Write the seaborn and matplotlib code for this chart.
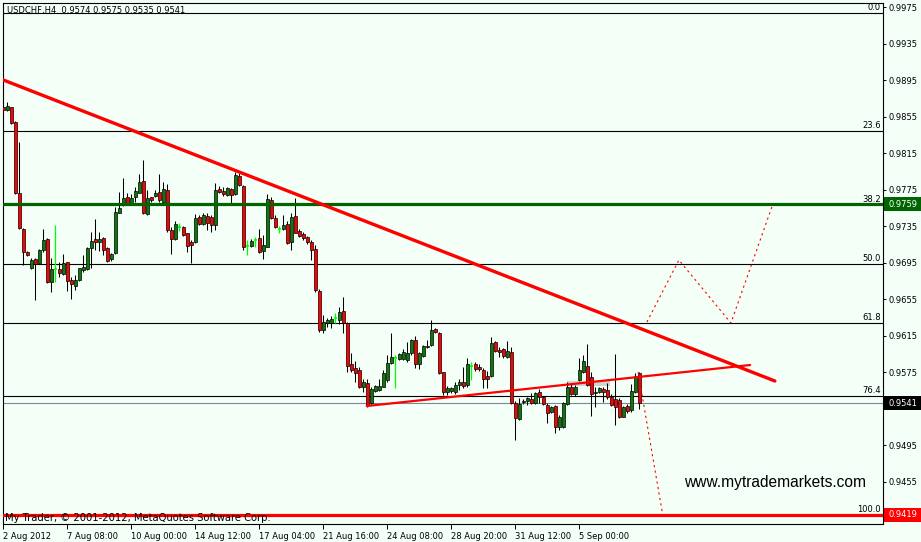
import numpy as np
import matplotlib
matplotlib.use("Agg")
import matplotlib.pyplot as plt
import matplotlib.transforms as mtransforms
from matplotlib.patches import Rectangle
import seaborn as sns

# ---------------- data ----------------
opens = [0.98660, 0.98619, 0.98652, 0.98488, 0.97710, 0.97320, 0.97064, 0.96896, 0.96991, 0.96951,
         0.97090, 0.97210, 0.96743, 0.96882, 0.96882, 0.96827, 0.96955, 0.96758, 0.96699, 0.96761,
         0.96871, 0.96878, 0.97108, 0.97210, 0.97174, 0.97225, 0.97115, 0.96988, 0.97054, 0.97499,
         0.97583, 0.97667, 0.97601, 0.97667, 0.97718, 0.97849, 0.97481, 0.97667, 0.97681, 0.97729,
         0.97619, 0.97747, 0.97309, 0.97207, 0.97346, 0.97338, 0.97272, 0.97181, 0.97181, 0.97448,
         0.97375, 0.97462, 0.97455, 0.97363, 0.97754, 0.97739, 0.97692, 0.97754, 0.97703, 0.97900,
         0.97790, 0.97133, 0.97133, 0.97199, 0.97217, 0.97082, 0.97126, 0.97637, 0.97436, 0.97316,
         0.97316, 0.97374, 0.97181, 0.97462, 0.97301, 0.97265, 0.97228, 0.97181, 0.97097, 0.96644,
         0.96214, 0.96287, 0.96294, 0.96342, 0.96324, 0.96426, 0.96294, 0.95842, 0.95794, 0.95776,
         0.95586, 0.95630, 0.95411, 0.95550, 0.95557, 0.95593, 0.95666, 0.95857, 0.95904, 0.95893,
         0.95893, 0.95885, 0.95958, 0.96105, 0.95842, 0.95929, 0.96039, 0.96050, 0.96225, 0.96177,
         0.95750, 0.95531, 0.95546, 0.95538, 0.95611, 0.95641, 0.95611, 0.95823, 0.95838, 0.95812,
         0.95776, 0.95714, 0.95714, 0.96079, 0.95995, 0.96006, 0.95922, 0.95969, 0.95411, 0.95239,
         0.95421, 0.95436, 0.95458, 0.95411, 0.95538, 0.95483, 0.95392, 0.95319, 0.95381, 0.95155,
         0.95155, 0.95403, 0.95593, 0.95513, 0.95666, 0.95757, 0.95819, 0.95702, 0.95520, 0.95538,
         0.95564, 0.95557, 0.95483, 0.95454, 0.95447, 0.95264, 0.95381, 0.95337, 0.95531, 0.95740]
highs = [0.98707, 0.98707, 0.98659, 0.98500, 0.98276, 0.97327, 0.97079, 0.96998, 0.96998, 0.97101,
         0.97316, 0.97217, 0.96998, 0.97364, 0.96962, 0.97042, 0.96962, 0.96798, 0.96816, 0.96896,
         0.97035, 0.97126, 0.97283, 0.97429, 0.97283, 0.97236, 0.97123, 0.97054, 0.97557, 0.97729,
         0.97875, 0.97718, 0.97700, 0.97784, 0.97922, 0.98076, 0.97747, 0.97674, 0.97747, 0.97922,
         0.97838, 0.97813, 0.97338, 0.97411, 0.97382, 0.97353, 0.97280, 0.97200, 0.97484, 0.97473,
         0.97499, 0.97491, 0.97473, 0.97820, 0.97790, 0.97783, 0.97783, 0.97765, 0.97947, 0.97929,
         0.97801, 0.97199, 0.97206, 0.97236, 0.97316, 0.97254, 0.97703, 0.97674, 0.97473, 0.97352,
         0.97473, 0.97411, 0.97491, 0.97655, 0.97316, 0.97290, 0.97243, 0.97199, 0.97144, 0.96660,
         0.96378, 0.96342, 0.96367, 0.96404, 0.96470, 0.96579, 0.96305, 0.95958, 0.95878, 0.95805,
         0.95674, 0.95674, 0.95593, 0.95612, 0.95674, 0.95776, 0.95940, 0.96185, 0.95940, 0.95958,
         0.96002, 0.96086, 0.96112, 0.96148, 0.95977, 0.96050, 0.96105, 0.96323, 0.96239, 0.96188,
         0.95758, 0.95604, 0.95593, 0.95648, 0.95677, 0.95812, 0.95903, 0.95860, 0.95867, 0.95838,
         0.95794, 0.95765, 0.96141, 0.96093, 0.96031, 0.96013, 0.96093, 0.96031, 0.95436, 0.95466,
         0.95458, 0.95484, 0.95520, 0.95538, 0.95564, 0.95491, 0.95410, 0.95381, 0.95392, 0.95283,
         0.95429, 0.95648, 0.95630, 0.95611, 0.95903, 0.95940, 0.96060, 0.95757, 0.95593, 0.95593,
         0.95586, 0.95637, 0.95513, 0.95951, 0.95465, 0.95381, 0.95403, 0.95622, 0.95739, 0.95750]
lows = [0.98568, 0.98612, 0.98470, 0.97705, 0.97320, 0.96925, 0.97028, 0.96882, 0.96542, 0.96944,
        0.97072, 0.96730, 0.96634, 0.96736, 0.96798, 0.96816, 0.96641, 0.96553, 0.96652, 0.96754,
        0.96852, 0.96871, 0.96896, 0.97090, 0.97079, 0.97035, 0.96962, 0.96973, 0.97046, 0.97491,
        0.97572, 0.97583, 0.97583, 0.97619, 0.97711, 0.97484, 0.97473, 0.97619, 0.97674, 0.97619,
        0.97608, 0.97291, 0.97046, 0.97200, 0.97302, 0.97243, 0.97072, 0.96951, 0.97170, 0.97364,
        0.97364, 0.97309, 0.97291, 0.97309, 0.97710, 0.97681, 0.97681, 0.97600, 0.97692, 0.97790,
        0.97090, 0.97035, 0.97119, 0.97119, 0.97060, 0.96987, 0.97119, 0.97425, 0.97327, 0.97279,
        0.97309, 0.97155, 0.97090, 0.97272, 0.97228, 0.97199, 0.97155, 0.96980, 0.96633, 0.96190,
        0.96178, 0.96243, 0.96232, 0.96287, 0.96280, 0.96178, 0.95758, 0.95758, 0.95648, 0.95575,
        0.95539, 0.95367, 0.95393, 0.95539, 0.95550, 0.95586, 0.95648, 0.95842, 0.95575, 0.95885,
        0.95885, 0.95867, 0.95940, 0.95794, 0.95783, 0.95922, 0.96013, 0.96042, 0.96177, 0.95728,
        0.95502, 0.95502, 0.95520, 0.95509, 0.95557, 0.95575, 0.95593, 0.95666, 0.95765, 0.95765,
        0.95582, 0.95575, 0.95703, 0.95969, 0.95922, 0.95904, 0.95904, 0.95400, 0.95009, 0.95228,
        0.95400, 0.95393, 0.95400, 0.95403, 0.95418, 0.95392, 0.95199, 0.95301, 0.95082, 0.95118,
        0.95137, 0.95392, 0.95502, 0.95491, 0.95659, 0.95739, 0.95600, 0.95272, 0.95374, 0.95520,
        0.95429, 0.95454, 0.95381, 0.95173, 0.95246, 0.95257, 0.95301, 0.95319, 0.95520, 0.95350]
closes = [0.98623, 0.98667, 0.98480, 0.97710, 0.97327, 0.97072, 0.97035, 0.96980, 0.96933, 0.97090,
          0.97199, 0.96736, 0.96882, 0.96882, 0.96842, 0.96944, 0.96750, 0.96714, 0.96761, 0.96889,
          0.96907, 0.97108, 0.97192, 0.97181, 0.97210, 0.97090, 0.96973, 0.97046, 0.97510, 0.97553,
          0.97656, 0.97601, 0.97656, 0.97740, 0.97838, 0.97491, 0.97656, 0.97638, 0.97718, 0.97638,
          0.97754, 0.97309, 0.97207, 0.97375, 0.97346, 0.97254, 0.97134, 0.97145, 0.97437, 0.97375,
          0.97473, 0.97389, 0.97364, 0.97747, 0.97728, 0.97703, 0.97765, 0.97692, 0.97911, 0.97801,
          0.97119, 0.97133, 0.97192, 0.97199, 0.97071, 0.97144, 0.97644, 0.97436, 0.97345, 0.97316,
          0.97363, 0.97170, 0.97454, 0.97279, 0.97243, 0.97217, 0.97181, 0.97090, 0.96652, 0.96214,
          0.96305, 0.96324, 0.96331, 0.96342, 0.96415, 0.96294, 0.95820, 0.95776, 0.95747, 0.95586,
          0.95648, 0.95393, 0.95564, 0.95601, 0.95601, 0.95747, 0.95849, 0.95922, 0.95904, 0.95951,
          0.95977, 0.95966, 0.96105, 0.95842, 0.95958, 0.96039, 0.96024, 0.96214, 0.96188, 0.95739,
          0.95531, 0.95582, 0.95575, 0.95611, 0.95641, 0.95604, 0.95838, 0.95823, 0.95787, 0.95787,
          0.95677, 0.95677, 0.96068, 0.95984, 0.95969, 0.95933, 0.95984, 0.95411, 0.95246, 0.95400,
          0.95436, 0.95466, 0.95411, 0.95520, 0.95476, 0.95403, 0.95308, 0.95367, 0.95148, 0.95264,
          0.95418, 0.95593, 0.95513, 0.95593, 0.95776, 0.95878, 0.95611, 0.95513, 0.95538, 0.95575,
          0.95538, 0.95476, 0.95392, 0.95374, 0.95257, 0.95374, 0.95330, 0.95549, 0.95710, 0.95410]

time_tick_bars = [0, 16, 32, 48, 64, 80, 96, 112, 128, 144]
time_tick_labels = ["2 Aug 2012", "7 Aug 08:00", "10 Aug 00:00", "14 Aug 12:00", "17 Aug 04:00",
                    "21 Aug 16:00", "24 Aug 08:00", "28 Aug 20:00", "31 Aug 12:00", "5 Sep 00:00"]
price_ticks = [0.9975, 0.9935, 0.9895, 0.9855, 0.9815, 0.9775, 0.9735, 0.9695,
               0.9655, 0.9615, 0.9575, 0.9535, 0.9495, 0.9455, 0.9415]
hidden_ticks = [0.9535, 0.9415]  # covered by the price boxes in the reference

fib_labels = ["0.0", "23.6", "38.2", "50.0", "61.8", "76.4", "100.0"]
fib_prices = [0.99685, 0.98391, 0.97590, 0.96937, 0.96290, 0.95490, 0.94190]

green_level = 0.9759
red_level = 0.9419
bid_price = 0.9541
title_text = "USDCHF,H4  0.9574 0.9575 0.9535 0.9541"

downtrend_x = [-0.1, 192.9]
downtrend_y = [0.98953, 0.95655]
uptrend_x = [90.85, 186.7]
uptrend_y = [0.95381, 0.95830]
proj_up_x = [160.9, 168.9, 181.9, 192.4]
proj_up_y = [0.96301, 0.96980, 0.96290, 0.97593]
proj_down_x = [158.7, 164.9]
proj_down_y = [0.95754, 0.94177]
box_x = [140.9, 151.7]
box_y = [0.95604, 0.95658]

# ---------------- styling ----------------
BG = "#F3FFF7"
sns.set_style("white", rc={"axes.facecolor": BG, "figure.facecolor": BG,
                           "axes.edgecolor": "black"})
plt.rcParams["font.family"] = ["DejaVu Sans"]

W, H = 921, 542
TOP, BOT, LEFT, RIGHT = 3, 524, 3, 883
fig = plt.figure(figsize=(W / 100, H / 100), dpi=100)
ax = fig.add_axes([LEFT / W, 1 - BOT / H, (RIGHT - LEFT) / W, (BOT - TOP) / H])
ax.set_facecolor(BG)

PX = 0.0001095  # price per pixel
ymax = 0.99827 - TOP * PX
ymin = 0.99827 - BOT * PX

o = np.array(opens); h = np.array(highs); l = np.array(lows); c = np.array(closes)
idx = np.arange(len(o))
doji = np.isclose(o, c)
nd = ~doji

bt_ax = mtransforms.blended_transform_factory(ax.transAxes, ax.transData)

# fib levels (behind candles)
for lab, p in zip(fib_labels, fib_prices):
    ax.axhline(p, color="black", lw=0.8, zorder=1)
    ax.text(0.9975, p + 0.7 * PX, lab, transform=bt_ax,
            ha="right", va="bottom", fontsize=6, color="black", zorder=2)
ax.axhline(bid_price, color="#778899", lw=0.8, zorder=1)
ax.add_patch(Rectangle((box_x[0], box_y[0]), box_x[1] - box_x[0], box_y[1] - box_y[0],
                       facecolor="#D3D3D3", edgecolor="none", zorder=1.5))

# candles
ax.vlines(idx[nd], l[nd], h[nd], color="black", lw=0.75, zorder=3)
bottoms = np.minimum(o, c)[nd]
heights = np.maximum(np.abs(c - o)[nd], 0.00004)
cols = np.where((c > o)[nd], "#0A7A0A", "#FF0000")
ax.bar(idx[nd], heights, bottom=bottoms, width=0.75, color=cols, edgecolor="black",
       linewidth=0.5, zorder=4)
ax.vlines(idx[doji], l[doji], h[doji], color="#00FF00", lw=0.9, zorder=3)
ax.hlines(o[doji], idx[doji] - 0.45, idx[doji] + 0.45, color="#00FF00", lw=1.2, zorder=4)

# horizontal price lines
ax.axhline(green_level, color="#006400", lw=2.3, zorder=5)
ax.axhline(red_level, color="#FF0000", lw=2.3, zorder=5)

# trend lines (seaborn)
sns.lineplot(x=downtrend_x, y=downtrend_y, ax=ax, color="#FF0000", lw=2.4, sort=False,
             estimator=None, zorder=6)
sns.lineplot(x=uptrend_x, y=uptrend_y, ax=ax, color="#FF0000", lw=1.6, sort=False,
             estimator=None, zorder=6)
sns.lineplot(x=proj_up_x, y=proj_up_y, ax=ax, color="#FF0000", lw=0.8, sort=False,
             estimator=None, zorder=6, linestyle=(0, (2, 3)))
sns.lineplot(x=proj_down_x, y=proj_down_y, ax=ax, color="#FF0000", lw=0.8, sort=False,
             estimator=None, zorder=6, linestyle=(0, (2, 3)))

# axes limits & ticks
ax.set_xlim(-0.075, 219.925)
ax.set_ylim(ymin, ymax)
ax.set_xlabel("")
ax.set_ylabel("")
ax.set_xticks(time_tick_bars)
ax.set_xticklabels(time_tick_labels, ha="left")
ax.yaxis.tick_right()
ax.set_yticks(price_ticks)
ax.set_yticklabels(["" if p in hidden_ticks else f"{p:.4f}" for p in price_ticks])
ax.tick_params(axis="x", length=3.5, width=0.7, pad=2.0, labelsize=6, colors="black", bottom=True)
ax.tick_params(axis="y", length=2.2, width=0.7, pad=1.5, labelsize=6, colors="black", right=True, left=False)
for s in ax.spines.values():
    s.set_visible(True)
    s.set_color("black")
    s.set_linewidth(0.8)
ax.grid(False)

# price boxes on the right scale
bt = mtransforms.blended_transform_factory(fig.transFigure, ax.transData)
for price, fc in [(green_level, "#006400"), (bid_price, "#000000"), (red_level, "#FF0000")]:
    ax.add_patch(Rectangle((884 / W, price - 7 * PX), 37 / W, 14 * PX, transform=bt,
                           facecolor=fc, edgecolor="none", clip_on=False, zorder=10))
    ax.text(888 / W, price, f"{price:.4f}", transform=bt, ha="left", va="center",
            fontsize=6, color="white", zorder=11, clip_on=False)

# texts
hgt = BOT - TOP
ax.text(0.0045, (BOT - 10) / hgt, title_text, transform=ax.transAxes, ha="left", va="center",
        fontsize=6, color="black", zorder=8)
ax.text(0.0025, (BOT - 518) / hgt, "My Trader, © 2001-2012, MetaQuotes Software Corp.",
        transform=ax.transAxes, ha="left", va="center", fontsize=7.2, color="black", zorder=8)
ax.text(0.877, (BOT - 483) / hgt, "www.mytrademarkets.com", transform=ax.transAxes,
        ha="center", va="center", fontsize=11.2, color="black",
        family=["Liberation Sans", "DejaVu Sans"], zorder=8)

fig.savefig("out.png", dpi=100, facecolor=BG)
